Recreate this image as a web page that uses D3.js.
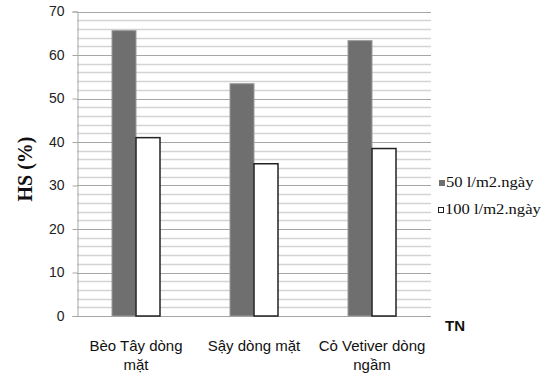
<!DOCTYPE html>
<html><head><meta charset="utf-8">
<script src="https://cdn.jsdelivr.net/npm/d3@7"></script>
<style>body{margin:0;background:#fff}</style>
</head><body>
<svg id="c" width="545" height="378"></svg>
<script>
const categories = [["Bèo Tây dòng","mặt"],["Sậy dòng mặt"],["Cỏ Vetiver dòng","ngầm"]];
const seriesNames = ["50 l/m2.ngày","100 l/m2.ngày"];
const s50 = [65.6, 53.4, 63.3];
const s100 = [41.0, 35.0, 38.5];
const yTicks = [0,10,20,30,40,50,60,70];
const minorTicks = d3.range(0, 71, 2);

const svg = d3.select("#c");
const L=77, R=431, T=11.5, B=316;
const x0 = d3.scaleBand().domain(d3.range(categories.length)).range([L,R]);
const x1 = d3.scaleBand().domain([0,1]).range([0,48]);
const y = d3.scaleLinear().domain([0,70]).range([B,T]);

// minor gridlines
svg.append("g").selectAll("line").data(minorTicks.filter(v=>v%10!==0)).join("line")
  .attr("x1",L).attr("x2",R).attr("y1",d=>Math.round(y(d))+0.5).attr("y2",d=>Math.round(y(d))+0.5)
  .attr("stroke","#d4d4d4").attr("stroke-width",1.5);
// major gridlines
svg.append("g").selectAll("line").data(yTicks.filter(v=>v>0)).join("line")
  .attr("x1",L).attr("x2",R).attr("y1",d=>Math.round(y(d))+0.5).attr("y2",d=>Math.round(y(d))+0.5)
  .attr("stroke","#a6a6a6").attr("stroke-width",1);

// y axis
const ya = svg.append("g").attr("transform",`translate(${L+0.5},0)`)
  .call(d3.axisLeft(y).tickValues(yTicks).tickSize(5).tickPadding(8));
ya.select(".domain").attr("stroke","#a6a6a6");
ya.selectAll(".tick line").attr("stroke","#a6a6a6");
ya.selectAll("text").attr("font-family","Liberation Sans, Arial, sans-serif").attr("font-size",14).attr("fill","#222");

// x axis line
svg.append("line").attr("x1",L).attr("x2",R).attr("y1",B+0.5).attr("y2",B+0.5).attr("stroke","#a6a6a6");

// bars
const groups = svg.append("g").selectAll("g").data(categories).join("g")
  .attr("transform",(d,i)=>`translate(${x0(i)+x0.bandwidth()/2-24},0)`);
groups.append("rect").attr("x",x1(0)).attr("width",x1.bandwidth())
  .attr("y",(d,i)=>y(s50[i])).attr("height",(d,i)=>B-y(s50[i]))
  .attr("fill","#6f6f6f").attr("stroke","#9a9a9a").attr("stroke-width",1);
groups.append("rect").attr("x",x1(1)).attr("width",x1.bandwidth())
  .attr("y",(d,i)=>y(s100[i])).attr("height",(d,i)=>B-y(s100[i]))
  .attr("fill","#fff").attr("stroke","#222").attr("stroke-width",1.5);

// category labels
const cl = svg.append("g").selectAll("text").data(categories).join("text")
  .attr("x",(d,i)=>x0(i)+x0.bandwidth()/2).attr("y",351)
  .attr("text-anchor","middle").attr("font-family","Liberation Sans, Arial, sans-serif")
  .attr("font-size",15).attr("fill","#111");
cl.selectAll("tspan").data(d=>d).join("tspan")
  .attr("x",function(){return this.parentNode.getAttribute("x");})
  .attr("dy",(d,i)=>i===0?0:19).text(d=>d);

// TN
svg.append("text").attr("x",445).attr("y",331).attr("font-family","Liberation Sans, Arial, sans-serif")
  .attr("font-weight","bold").attr("font-size",15).attr("fill","#111").text("TN");

// y title
svg.append("text").attr("transform","translate(32,169) rotate(-90)").attr("text-anchor","middle")
  .attr("font-family","Liberation Serif, Times New Roman, serif").attr("font-weight","bold")
  .attr("font-size",20).attr("fill","#111").text("HS (%)");

// legend
const lg = svg.append("g").selectAll("g").data(seriesNames).join("g")
  .attr("transform",(d,i)=>`translate(${439-i},${187+i*27})`);
lg.append("rect").attr("x",0.5).attr("y",-6.5).attr("width",5).attr("height",5)
  .attr("fill",(d,i)=>i===0?"#6f6f6f":"#fff").attr("stroke",(d,i)=>i===0?"#6f6f6f":"#222");
lg.append("text").attr("transform","translate(7,0) scale(1.07,1)").attr("font-family","Liberation Serif, Times New Roman, serif")
  .attr("font-size",15.5).attr("fill","#111").text(d=>d);
</script>
</body></html>
